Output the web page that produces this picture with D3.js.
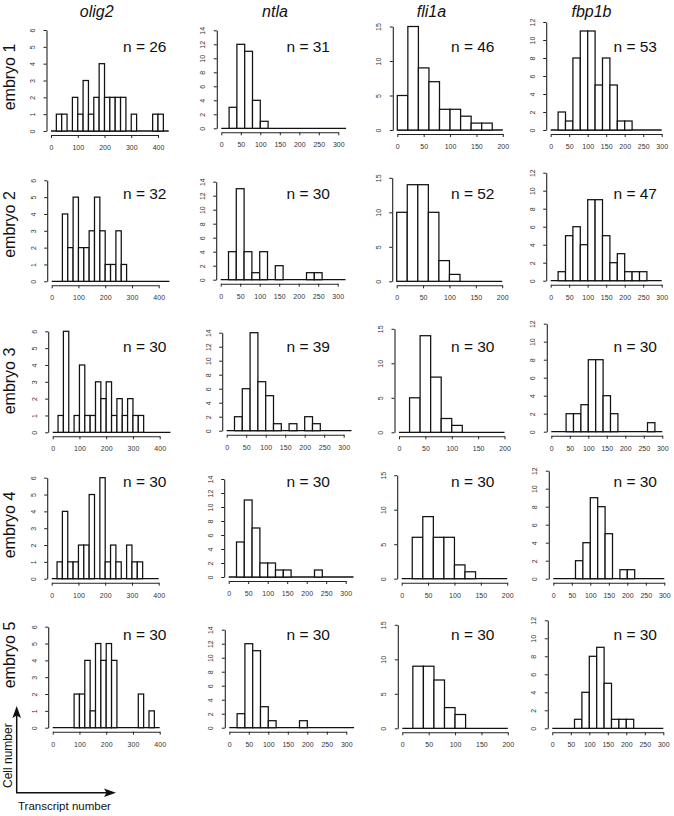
<!DOCTYPE html>
<html><head><meta charset="utf-8">
<script src="https://cdn.jsdelivr.net/npm/d3@7/dist/d3.min.js"></script>
<style>body{margin:0;background:#fff} svg{display:block}</style>
</head><body>
<svg id="c" width="674" height="816"></svg>
<script>
// ---------- data ----------
const genes = ["olig2", "ntla", "fli1a", "fbp1b"];
const embryos = ["embryo 1", "embryo 2", "embryo 3", "embryo 4", "embryo 5"];
const binWidth = 20; // transcript-number bins start at 0

// counts per 20-wide bin, one row per embryo
const olig2Counts = [
  [0,1,1,0,2,1,3,1,2,4,2,2,2,2,0,1,0,0,0,1,1,0],
  [0,0,4,2,5,2,2,3,5,3,1,1,3,1,0,0,0,0,0,0,0,0],
  [0,1,6,0,1,4,1,1,3,2,3,1,2,1,2,1,1,0,0,0,0,0],
  [0,1,4,1,1,2,2,5,0,6,1,2,1,0,2,1,1,0,0,0],
  [0,0,0,0,2,2,4,1,5,4,5,4,0,0,0,0,2,0,1,0]
];
const ntlaCounts = [
  [0,3,12,11,4,1,0,0,0,0,0,0,0,0,0,0],
  [0,4,13,4,1,4,0,2,0,0,0,1,1,0,0,0],
  [0,2,6,14,7,5,1,0,1,0,2,1,0,0,0,0],
  [0,5,11,7,2,2,1,1,0,0,0,1,0,0,0,0],
  [0,2,12,11,3,1,0,0,0,1,0,0,0,0,0,0]
];
const fli1aCounts = [
  [5,15,9,7,3,3,2,1,1,0],
  [10,14,14,10,3,1,0,0,0,0],
  [0,5,14,8,2,1,0,0,0,0],
  [0,6,9,6,6,2,1,0,0,0],
  [0,9,9,7,3,2,0,0,0,0]
];
const fbp1bCounts = [
  [0,2,1,8,11,11,5,8,5,1,1,0,0,0,0],
  [0,1,5,6,4,9,9,5,2,3,1,1,1,0,0],
  [0,0,2,2,3,8,8,4,2,0,0,0,0,1,0],
  [0,0,0,2,4,9,8,5,0,1,1,0,0,0,0],
  [0,0,0,1,4,8,9,5,1,1,1,0,0,0,0]
];
const nLabels = [
  [26, 31, 46, 53],
  [32, 30, 52, 47],
  [30, 39, 30, 30],
  [30, 30, 30, 30],
  [30, 30, 30, 30]
];
const olig2XTicks = [0, 100, 200, 300, 400];
const ntlaXTicks = [0, 50, 100, 150, 200, 250, 300];
const fli1aXTicks = [0, 50, 100, 150, 200];
const fbp1bXTicks = [0, 50, 100, 150, 200, 250, 300];
const olig2YTicks = [0, 1, 2, 3, 4, 5, 6];
const ntlaYTicks = [0, 2, 4, 6, 8, 10, 12, 14];
const fli1aYTicks = [0, 5, 10, 15];
const fbp1bYTicks = [0, 2, 4, 6, 8, 10, 12];

const countsByGene = [olig2Counts, ntlaCounts, fli1aCounts, fbp1bCounts];
const xTicksByGene = [olig2XTicks, ntlaXTicks, fli1aXTicks, fbp1bXTicks];
const yTicksByGene = [olig2YTicks, ntlaYTicks, fli1aYTicks, fbp1bYTicks];

// ---------- layout (pixels) ----------
const panelX0 = [
  [51, 221.3, 397.3, 550.7],
  [51.7, 220.7, 396.7, 550.7],
  [52.7, 226.7, 399, 551.3],
  [51.7, 228.7, 401.7, 553.3],
  [52.7, 229.3, 402.3, 552.3]
];
const panelYb = [
  [131, 128.3, 130, 130],
  [281.3, 279.7, 281.3, 280.7],
  [432.3, 430.7, 432.3, 431.7],
  [578.7, 577, 578.7, 578.7],
  [727.7, 727.7, 728.3, 728.3]
];
const colW = [107, 117, 105.5, 111];
const colH = [101, 98, 103.5, 108];
const titleX = [96.7, 275, 431.5, 591.5];
const rowLabelY = [77, 224.5, 381, 525, 655];
const nRight = [166.5, 330, 494.5, 657];
const nBase = [51.7, 199, 351.5, 487, 639.7];

const font = "'Liberation Sans', Arial, Helvetica, sans-serif";
const tickFont = "'Liberation Sans Narrow', 'Arial Narrow', 'Liberation Sans', Arial, sans-serif";
const fmt = d3.format("d");
const svg = d3.select("#c");

// column titles
svg.selectAll("text.title").data(genes).join("text")
  .attr("class", "title")
  .attr("x", (d, i) => titleX[i]).attr("y", 16.5)
  .attr("text-anchor", "middle")
  .attr("font-family", font).attr("font-size", 16).attr("font-style", "italic")
  .attr("fill", "#111")
  .text(d => d);

// row labels
svg.selectAll("text.rowlab").data(embryos).join("text")
  .attr("class", "rowlab")
  .attr("transform", (d, i) => `translate(14.5,${rowLabelY[i]}) rotate(-90)`)
  .attr("text-anchor", "middle")
  .attr("font-family", font).attr("font-size", 16)
  .attr("fill", "#111")
  .text(d => d);

embryos.forEach((emb, ri) => {
  genes.forEach((gene, ci) => {
    const counts = countsByGene[ci][ri];
    const xt = xTicksByGene[ci], yt = yTicksByGene[ci];
    const x0 = panelX0[ri][ci], yb = panelYb[ri][ci];
    const x = d3.scaleLinear().domain([0, xt[xt.length - 1]]).range([x0, x0 + colW[ci]]);
    const y = d3.scaleLinear().domain([0, yt[yt.length - 1]]).range([yb, yb - colH[ci]]);
    const g = svg.append("g");

    // baseline across all bins (zero-count bins)
    g.append("line")
      .attr("x1", x(0)).attr("x2", x(counts.length * binWidth))
      .attr("y1", y(0)).attr("y2", y(0))
      .attr("stroke", "#111").attr("stroke-width", 1.3);

    const bins = counts.map((c, i) => ({ a: i * binWidth, b: (i + 1) * binWidth, c }))
      .filter(d => d.c > 0);
    g.selectAll("rect").data(bins).join("rect")
      .attr("x", d => x(d.a)).attr("width", d => x(d.b) - x(d.a))
      .attr("y", d => y(d.c)).attr("height", d => y(0) - y(d.c))
      .attr("fill", "#fff").attr("stroke", "#111").attr("stroke-width", 1.25);

    // y axis
    const ya = g.append("g").attr("transform", `translate(${x0 - 4.5},0)`)
      .call(d3.axisLeft(y).tickValues(yt).tickFormat(fmt).tickSize(3).tickSizeOuter(0));
    ya.selectAll("text")
      .attr("x", null).attr("dy", null)
      .attr("transform", "translate(-11.5,0) rotate(-90)")
      .attr("text-anchor", "middle")
      .attr("font-family", tickFont).attr("font-size", 7).attr("fill", "#333");

    // x axis
    const xa = g.append("g").attr("transform", `translate(0,${yb + 4})`)
      .call(d3.axisBottom(x).tickValues(xt).tickFormat(fmt).tickSize(3).tickSizeOuter(0));
    xa.selectAll("text")
      .attr("y", 15).attr("dy", null)
      .attr("font-family", tickFont).attr("font-size", 7).attr("fill", "#333");

    [ya, xa].forEach(a => {
      a.select(".domain").attr("stroke", "#222").attr("stroke-width", 1.1);
      a.selectAll(".tick line").attr("stroke", "#222").attr("stroke-width", 1);
    });

    // n label
    g.append("text")
      .attr("x", nRight[ci]).attr("y", nBase[ri])
      .attr("text-anchor", "end")
      .attr("font-family", font).attr("font-size", 15.5).attr("fill", "#111")
      .text("n = " + nLabels[ri][ci]);
  });
});

// axis legend arrows (bottom-left)
const lg = svg.append("g");
lg.append("line").attr("x1", 16.7).attr("x2", 16.7).attr("y1", 793).attr("y2", 714)
  .attr("stroke", "#111").attr("stroke-width", 1.5);
lg.append("line").attr("x1", 16).attr("x2", 107).attr("y1", 792.7).attr("y2", 792.7)
  .attr("stroke", "#111").attr("stroke-width", 1.5);
lg.append("path").attr("d", "M16.7,706 L21,718 L16.7,715.5 L12.4,718 Z").attr("fill", "#111");
lg.append("path").attr("d", "M116,792.7 L104,788.4 L106.5,792.7 L104,797 Z").attr("fill", "#111");
lg.append("text").attr("transform", "translate(11.7,788) rotate(-90)")
  .attr("font-family", font).attr("font-size", 12).attr("fill", "#111")
  .text("Cell number");
lg.append("text").attr("x", 18).attr("y", 810.3)
  .attr("font-family", font).attr("font-size", 11.5).attr("fill", "#111")
  .text("Transcript number");
</script>
</body></html>
